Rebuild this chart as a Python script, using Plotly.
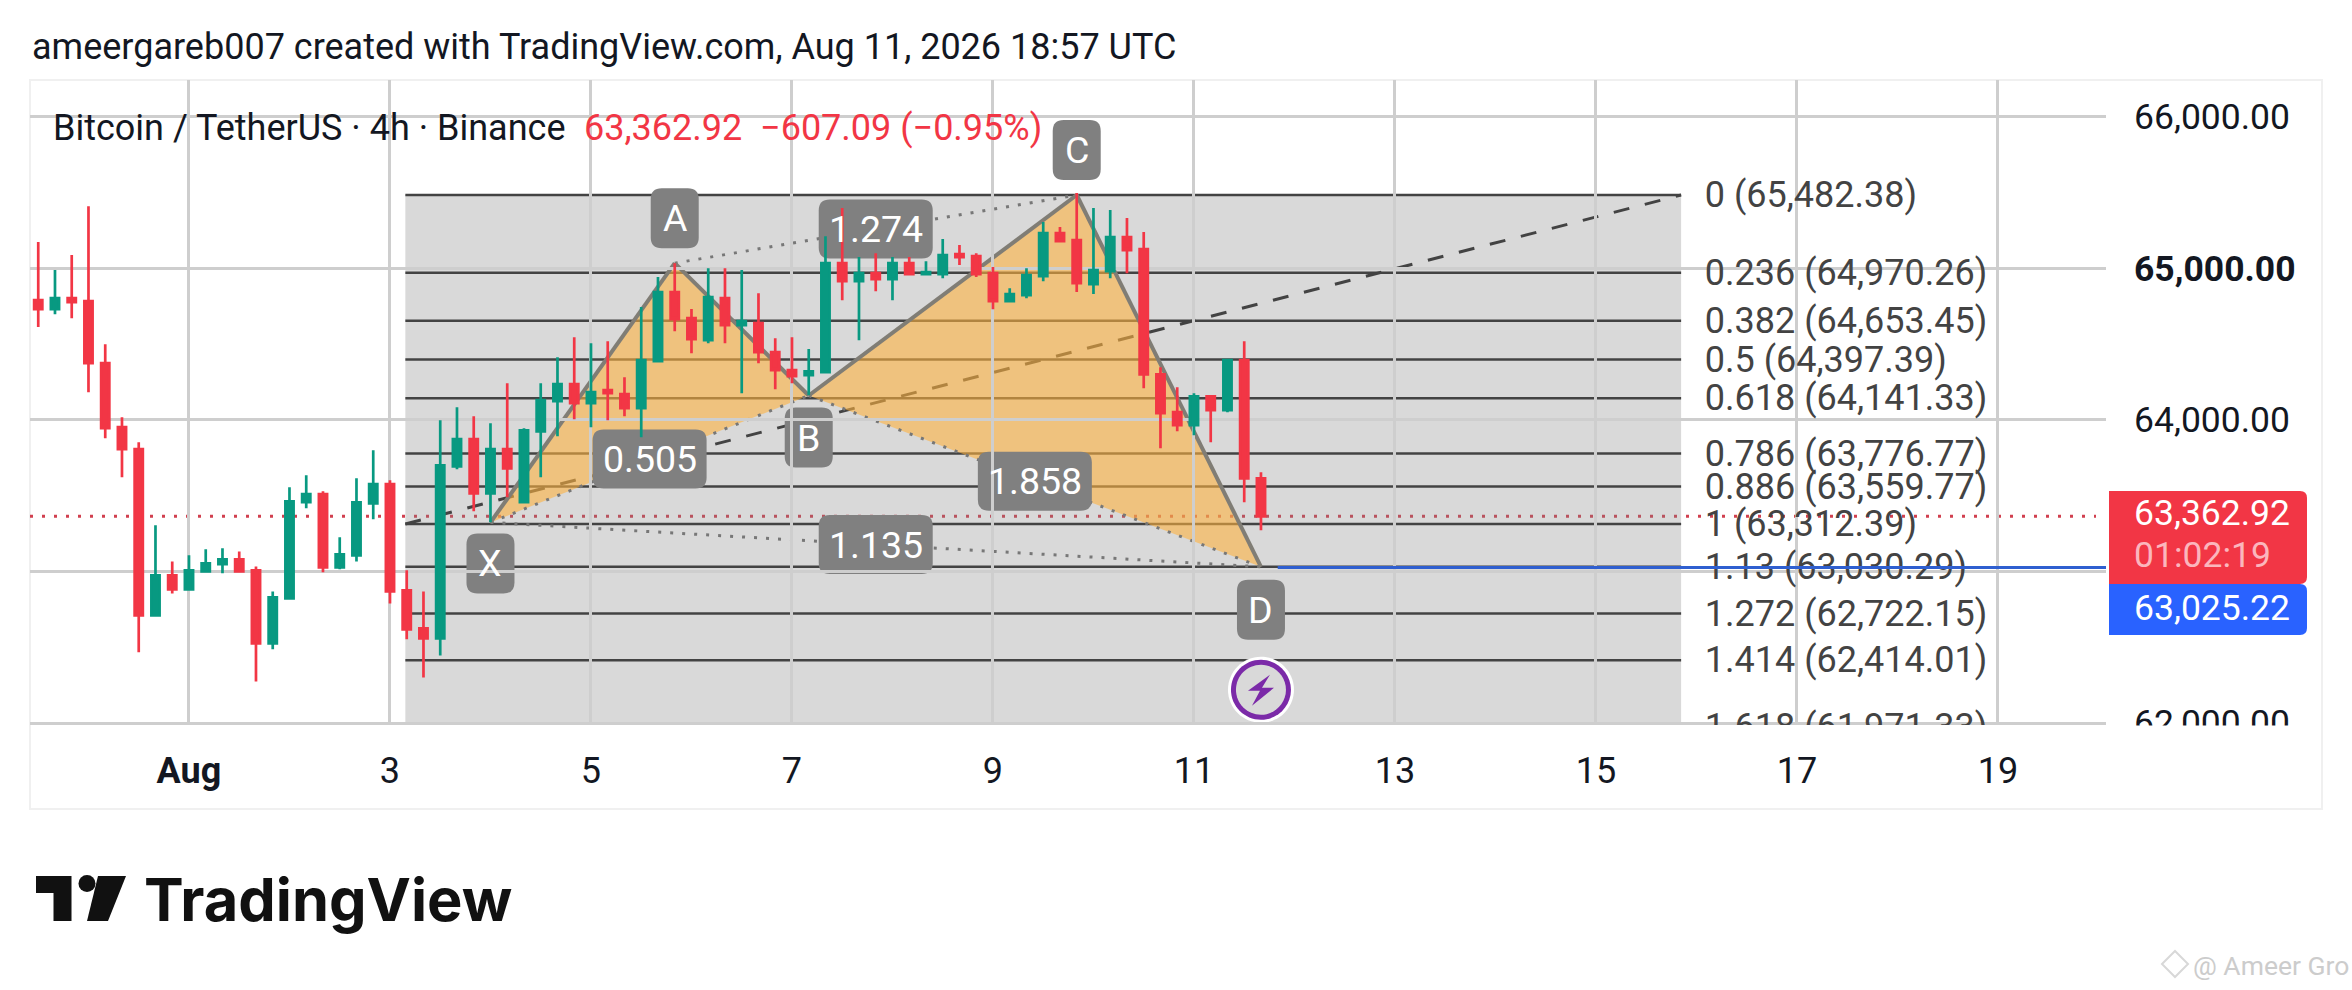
import pandas as pd
import plotly.graph_objects as go

# candles, 4h bars
first_bar = "2026-07-30 12:00"
opens = [64789, 64729, 64802, 64782, 64373, 63951, 63806, 62710, 62974, 62882, 63000, 63047, 63080, 63007, 62525,
         62822, 63456, 63509, 63027, 63106, 63449, 63575, 62875, 62624, 62558, 63693, 63872, 63515, 63806, 63456,
         63924, 64122, 64235, 64109, 64195, 64169, 64076, 64386, 64842, 64670, 64525, 64802, 64624, 64637, 64446,
         64327, 64294, 64314, 65033, 64914, 64967, 64928, 65033, 64961, 64961, 65093, 65079, 64967, 64782, 64822,
         64947, 65231, 65185, 64895, 64980, 65205, 65126, 64300, 64050, 63964, 64155, 64063, 64393, 63614]
closes = [64729, 64802, 64776, 64373, 63944, 63806, 62710, 62974, 62882, 63007, 63053, 63080, 63000, 62525, 62829,
          63462, 63509, 63027, 63113, 63456, 63575, 62868, 62618, 62558, 63700, 63872, 63515, 63806, 63680, 63931,
          64129, 64235, 64109, 64182, 64175, 64076, 64393, 64842, 64664, 64532, 64809, 64624, 64650, 64446, 64327,
          64287, 64320, 65033, 64914, 64967, 64928, 65033, 64961, 64974, 65086, 65073, 64961, 64782, 64829, 64954,
          65231, 65178, 64901, 64987, 65205, 65119, 64300, 64043, 63964, 64155, 64063, 64393, 63614, 63362.92]
highs = [65173, 64987, 65086, 65409, 64498, 64017, 63852, 63304, 63066, 63106, 63146, 63152, 63132, 63033, 62868,
         63555, 63634, 63528, 63225, 63614, 63799, 63601, 63007, 62868, 63997, 64083, 64023, 63977, 64241, 63944,
         64241, 64413, 64545, 64505, 64518, 64281, 64743, 64941, 65033, 64730, 65000, 65000, 64987, 64835, 64538,
         64545, 64466, 65211, 65396, 65073, 65099, 65073, 65073, 65046, 65192, 65152, 65099, 65007, 64868, 65000,
         65304, 65271, 65495, 65396, 65383, 65330, 65238, 64347, 64215, 64175, 64160, 64400, 64518, 63654]
lows = [64612, 64696, 64670, 64182, 63878, 63621, 62466, 62705, 62855, 62880, 62994, 62987, 62995, 62274, 62486,
        62816, 63416, 62994, 63014, 63066, 63344, 62789, 62552, 62301, 62446, 63674, 63396, 63324, 63489, 63456,
        63621, 63891, 64004, 63951, 63997, 64023, 63885, 64386, 64584, 64439, 64505, 64505, 64175, 64373, 64202,
        64241, 64162, 64314, 64789, 64525, 64848, 64789, 64961, 64961, 64934, 65020, 64941, 64729, 64782, 64802,
        64914, 65178, 64842, 64829, 64934, 64967, 64208, 63812, 63924, 63898, 63852, 64050, 63456, 63272]

# fib levels
fib_ratios = ["0", "0.236", "0.382", "0.5", "0.618", "0.786", "0.886", "1", "1.13", "1.272", "1.414", "1.618"]
fib_prices = [65482.38, 64970.26, 64653.45, 64397.39, 64141.33, 63776.77, 63559.77, 63312.39, 63030.29, 62722.15,
              62414.01, 61971.33]
fib_start = "2026-08-03 03:40"
fib_end = "2026-08-15 20:20"
fib_text_x = "2026-08-16 02:00"

# XABCD pattern
pat_names = ["X", "A", "B", "C", "D"]
pat_dates = ["2026-08-04 00:00", "2026-08-05 20:00", "2026-08-07 04:00", "2026-08-09 20:00", "2026-08-11 16:00"]
pat_prices = [63323, 65033, 64160, 65482.38, 63030.29]
pat_shift = [-41, 45, -42, 45, -43]
ratio_pairs = [(0, 2), (1, 3), (2, 4), (0, 4)]
ratio_text = ["0.505", "1.274", "1.858", "1.135"]

last_price = 63362.92
line_price = 63025.22
blue_start = "2026-08-11 20:00"

tick_dates = ["2026-08-01", "2026-08-03", "2026-08-05", "2026-08-07", "2026-08-09", "2026-08-11", "2026-08-13",
              "2026-08-15", "2026-08-17", "2026-08-19"]
tick_days = ["<b>Aug</b>", "3", "5", "7", "9", "11", "13", "15", "17", "19"]
price_ticks = [62000, 63000, 64000, 65000, 66000]
price_text = ["62,000.00", "", "64,000.00", "<b>65,000.00</b>", "66,000.00"]

UP = "#089981"
DOWN = "#F23645"
INK = "#131722"
GRID = "#cecece"
LABEL = "#808080"
FIB = "#434343"
PURPLE = "#7B2AA8"
FONT = "Roboto"

W, H = 2352, 990
PL, PR, PT, PB = 30, 2106, 80, 725


def fx(px):
    return (px - PL) / (PR - PL)


def fy(py):
    return (PB - py) / (PB - PT)


def d(s):
    return s.replace(" ", "_")


def box_path(w, h, r, left_r=None, dy=0):
    # rounded box around the anchor, in pixels
    a, b = w / 2, h / 2
    lr = r if left_r is None else left_r
    return (f"M {-a + lr},{b + dy} L {a - r},{b + dy} Q {a},{b + dy} {a},{b - r + dy} L {a},{-b + r + dy} "
            f"Q {a},{-b + dy} {a - r},{-b + dy} L {-a + lr},{-b + dy} Q {-a},{-b + dy} {-a},{-b + lr + dy} "
            f"L {-a},{b - lr + dy} Q {-a},{b + dy} {-a + lr},{b + dy} Z")


def px_shape(xa, ya, path, color, xref="x", yref="y", layer="below"):
    return dict(type="path", xref=xref, yref=yref, xsizemode="pixel", ysizemode="pixel", xanchor=xa, yanchor=ya,
                path=path, fillcolor=color, line=dict(width=0), layer=layer)


def txt(x, y, s, size, color=INK, xref="paper", yref="paper", xanchor="left", yshift=0):
    return dict(x=x, y=y, xref=xref, yref=yref, text=s, showarrow=False, xanchor=xanchor, yanchor="middle",
                yshift=yshift, font=dict(family=FONT, size=size, color=color))


shapes = []
# outer frame
shapes.append(dict(type="rect", xref="paper", yref="paper", x0=0, x1=fx(2322), y0=fy(809), y1=1,
                   line=dict(color="#f0f0f0", width=2), layer="below"))

# fib block
shapes.append(dict(type="rect", x0=fib_start, x1=fib_end, y0=fib_prices[-1], y1=fib_prices[0],
                   fillcolor="rgba(128,128,128,0.3)", line=dict(width=0), layer="below"))
for p in fib_prices:
    shapes.append(dict(type="line", x0=fib_start, x1=fib_end, y0=p, y1=p, line=dict(color=FIB, width=2.5),
                       layer="below"))
shapes.append(dict(type="line", x0=fib_start, x1=fib_end, y0=fib_prices[7], y1=fib_prices[0],
                   line=dict(color=FIB, width=3, dash="16px,16px"), layer="below"))

# harmonic pattern
for a, b, c in [(0, 1, 2), (2, 3, 4)]:
    path = (f"M {d(pat_dates[a])},{pat_prices[a]} L {d(pat_dates[b])},{pat_prices[b]} "
            f"L {d(pat_dates[c])},{pat_prices[c]} Z")
    shapes.append(dict(type="path", path=path, fillcolor="rgba(255,178,63,0.59)", line=dict(width=0), layer="below"))
for a, b in ratio_pairs:
    shapes.append(dict(type="line", x0=pat_dates[a], x1=pat_dates[b], y0=pat_prices[a], y1=pat_prices[b],
                       line=dict(color="#777777", width=3, dash="3px,9px"), layer="below"))
for a in range(4):
    shapes.append(dict(type="line", x0=pat_dates[a], x1=pat_dates[a + 1], y0=pat_prices[a], y1=pat_prices[a + 1],
                       line=dict(color="#807d75", width=4), layer="below"))

# last price line
shapes.append(dict(type="line", xref="paper", x0=0, x1=fx(2096), y0=last_price, y1=last_price,
                   line=dict(color="#d1404f", width=3, dash="3px,9px"), layer="below"))

annotations = []
# vertex and ratio labels, shapes stay under the candles
for name, x, p, sh in zip(pat_names, pat_dates, pat_prices, pat_shift):
    shapes.append(px_shape(x, p, box_path(48, 60, 11, dy=sh), LABEL))
    annotations.append(txt(x, p, name, 37.5, "white", "x", "y", "center", sh))

stamps = pd.to_datetime(pat_dates)
for (a, b), label in zip(ratio_pairs, ratio_text):
    mid = stamps[a] + (stamps[b] - stamps[a]) / 2
    midp = (pat_prices[a] + pat_prices[b]) / 2
    mid_s = mid.strftime("%Y-%m-%d %H:%M")
    shapes.append(px_shape(mid_s, midp, box_path(114, 59, 11), LABEL))
    annotations.append(txt(mid_s, midp, label, 37.5, "white", "x", "y", "center"))

# alert icon under the D label
icon_x, icon_p, icon_y = pat_dates[4], pat_prices[4], -123
circle = lambda r: (f"M {-r},{icon_y} C {-r},{icon_y + r * 0.55} {-r * 0.55},{icon_y + r} 0,{icon_y + r} "
                    f"C {r * 0.55},{icon_y + r} {r},{icon_y + r * 0.55} {r},{icon_y} "
                    f"C {r},{icon_y - r * 0.55} {r * 0.55},{icon_y - r} 0,{icon_y - r} "
                    f"C {-r * 0.55},{icon_y - r} {-r},{icon_y - r * 0.55} {-r},{icon_y} Z")
shapes.append(px_shape(icon_x, icon_p, circle(33), "white"))
shapes.append(px_shape(icon_x, icon_p, circle(30), PURPLE))
shapes.append(px_shape(icon_x, icon_p, circle(25), "#d9d9d9"))
bolt = [(9, 15), (-13, -1), (-1, -1), (-9, -16), (13, 2), (1, 2)]
bolt_path = "M " + " L ".join(f"{a},{b + icon_y}" for a, b in bolt) + " Z"
shapes.append(px_shape(icon_x, icon_p, bolt_path, PURPLE))

# price scale tags
shapes.append(px_shape(fx(2208), fy(537.5), box_path(198, 93, 7, 0.01), "#F23645", "paper", "paper", "above"))
shapes.append(px_shape(fx(2208), fy(609.5), box_path(198, 51, 7, 0.01), "#2962FF", "paper", "paper", "above"))
annotations.append(txt(fx(2132), fy(513), "63,362.92", 35.5, "white"))
annotations.append(txt(fx(2132), fy(555), "01:02:19", 35.5, "#fbb6bd"))
annotations.append(txt(fx(2132), fy(608), "63,025.22", 35.5, "white"))

# cuts the lowest price label at the pane edge
shapes.append(dict(type="rect", xref="paper", yref="paper", x0=fx(2107), x1=fx(2320), y0=fy(750), y1=fy(725.5),
                   fillcolor="white", line=dict(width=0), layer="above"))

# TradingView mark
mark_t = [(36, 876), (71.5, 876), (71.5, 921), (53.5, 921), (53.5, 893), (36, 893)]
mark_bar = [(98, 876), (126, 876), (108, 921), (87, 921)]
for pts in (mark_t, mark_bar):
    path = "M " + " L ".join(f"{fx(a)},{fy(b)}" for a, b in pts) + " Z"
    shapes.append(dict(type="path", xref="paper", yref="paper", path=path, fillcolor="#111111", line=dict(width=0),
                       layer="above"))
shapes.append(dict(type="circle", xref="paper", yref="paper", x0=fx(78.5), x1=fx(95.5), y0=fy(892), y1=fy(875),
                   fillcolor="#111111", line=dict(width=0), layer="above"))
# small watermark diamond
shapes.append(dict(type="path", xref="paper", yref="paper",
                   path=f"M {fx(2162)},{fy(964)} L {fx(2175)},{fy(951)} L {fx(2188)},{fy(964)} L {fx(2175)},{fy(977)} Z",
                   fillcolor="rgba(0,0,0,0)", line=dict(color="#d8d8d8", width=2), layer="above"))

annotations.append(txt(fx(30), fy(47), "ameergareb007 created with TradingView.com, Aug 11, 2026 18:57 UTC", 36))
annotations.append(txt(fx(51), fy(128), "Bitcoin / TetherUS · 4h · Binance", 36))
annotations.append(txt(fx(582), fy(128), "63,362.92  −607.09 (−0.95%)", 36, DOWN))
annotations.append(dict(x=fx(142), y=fy(899), xref="paper", yref="paper", text="<b>TradingView</b>", showarrow=False,
                        xanchor="left", yanchor="middle", font=dict(family="Inter", size=59.5, color="#111111")))
annotations.append(txt(fx(2191), fy(965), "@ Ameer Gro", 26.5, "#cccccc"))

fig = go.Figure()
fig.add_trace(go.Candlestick(
    x=pd.date_range(first_bar, periods=len(opens), freq="4h"),
    open=opens, high=highs, low=lows, close=closes,
    increasing=dict(line=dict(color=UP, width=2.7), fillcolor=UP),
    decreasing=dict(line=dict(color=DOWN, width=2.7), fillcolor=DOWN),
    whiskerwidth=0, hoverinfo="skip", showlegend=False,
))
# labels sit a touch under their level
fig.add_trace(go.Scatter(
    x=[fib_text_x] * len(fib_prices), y=[p - 20 for p in fib_prices], mode="text",
    text=[f"{r} ({p:,.2f})" for r, p in zip(fib_ratios, fib_prices)], textposition="middle right",
    textfont=dict(family=FONT, size=36, color=FIB), hoverinfo="skip", showlegend=False,
))
fig.add_trace(go.Scatter(
    x=[blue_start, "2026-08-21"], y=[line_price, line_price], mode="lines",
    line=dict(color="#2f5fd0", width=3), hoverinfo="skip", showlegend=False,
))

fig.update_layout(
    width=W, height=H, margin=dict(l=PL, r=W - PR, t=PT, b=H - PB),
    paper_bgcolor="white", plot_bgcolor="white", boxgap=0.3,
    shapes=shapes, annotations=annotations, showlegend=False,
    font=dict(family=FONT, color=INK),
    xaxis=dict(type="date", range=["2026-07-30 10:02", "2026-08-20 01:48"], rangeslider=dict(visible=False),
               tickmode="array", tickvals=tick_dates, ticktext=tick_days, tickfont=dict(size=36), ticks="",
               ticklabelstandoff=21, showgrid=True, gridcolor=GRID, gridwidth=2.5, zeroline=False, showline=False),
    yaxis=dict(side="right", range=[61987, 66240.8], tickmode="array", tickvals=price_ticks, ticktext=price_text,
               tickfont=dict(size=35.5), ticks="", ticklabelstandoff=27, showgrid=True, gridcolor=GRID,
               gridwidth=2.5, zeroline=False, showline=False),
)

fig.write_html("out.html", config=dict(displayModeBar=False), post_script="document.body.style.margin='0';")
